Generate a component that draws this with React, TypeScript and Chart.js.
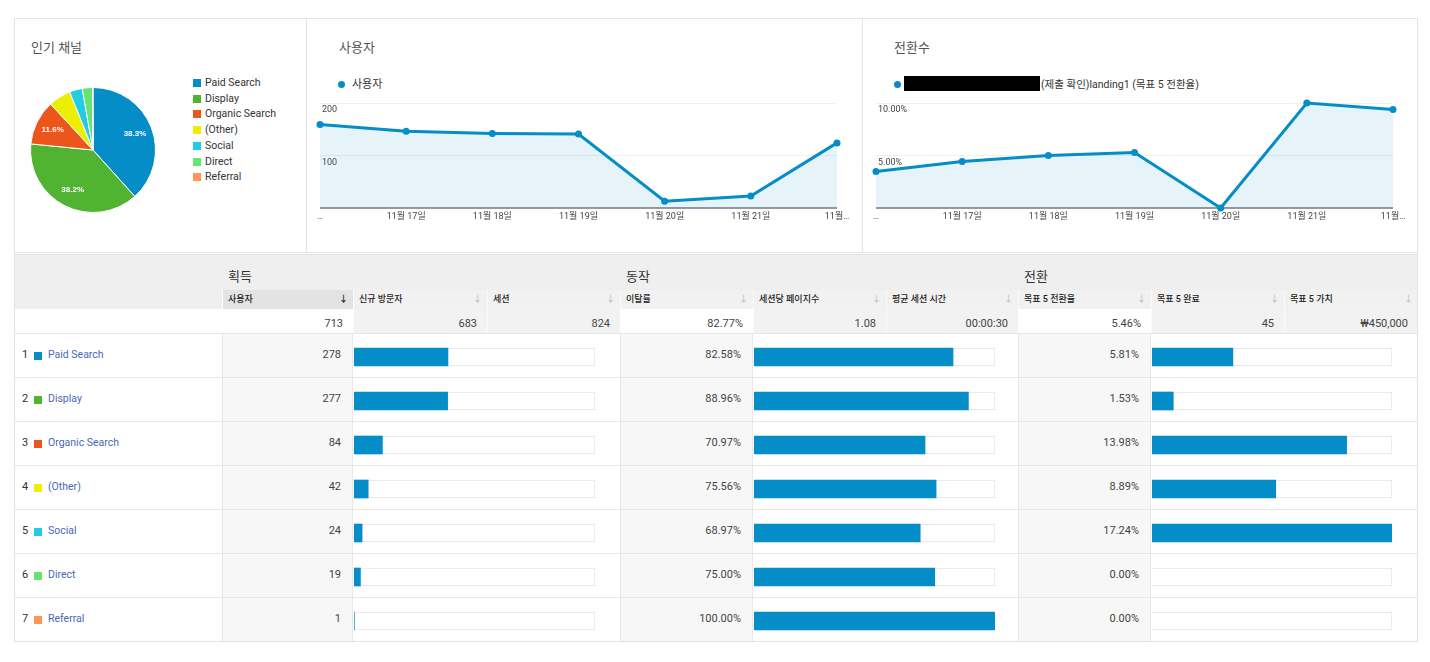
import React, { useEffect, useRef } from 'react';
import { Chart, registerables } from 'chart.js';

Chart.register(...registerables);

const FONT = "Roboto, 'Noto Sans CJK KR', 'Noto Sans', sans-serif";
Chart.defaults.font.family = FONT;

const BLUE = '#058dc7';

// ---- data ----
const channels = ['Paid Search', 'Display', 'Organic Search', '(Other)', 'Social', 'Direct', 'Referral'];
const channelColors = ['#058dc7', '#50b432', '#ed561b', '#edef00', '#24cbe5', '#64e572', '#ff9655'];
const channelUsers = [278, 277, 84, 42, 24, 19, 1];
const bounceRates = [82.58, 88.96, 70.97, 75.56, 68.97, 75.0, 100.0];
const goalRates = [5.81, 1.53, 13.98, 8.89, 17.24, 0.0, 0.0];

const dates = ['11월 16일', '11월 17일', '11월 18일', '11월 19일', '11월 20일', '11월 21일', '11월 22일'];
const dateTickLabels = ['…', '11월 17일', '11월 18일', '11월 19일', '11월 20일', '11월 21일', '11월…'];
const dailyUsers = [159, 146, 142, 141, 13, 23, 124];
const dailyGoalRate = [3.48, 4.43, 5.0, 5.29, 0.0, 10.0, 9.38];
const usersAxisMax = 200;
const usersAxisStep = 100;
const goalAxisMax = 10;
const goalAxisStep = 5;

const totalUsers = 713;
const groupTitles = ['획득', '동작', '전환'];
const columnLabels = ['사용자', '신규 방문자', '세션', '이탈률', '세션당 페이지수', '평균 세션 시간', '목표 5 전환율', '목표 5 완료', '목표 5 가치'];
const totalsLabels = ['713', '683', '824', '82.77%', '1.08', '00:00:30', '5.46%', '45', '₩450,000'];

// ---- layout ----
const colX = [222, 353, 487, 620, 753, 886, 1018, 1151, 1284, 1418];
const ROW_TOP = 334;
const ROW_H = 44;

function Txt(props: { x: number; y: number; size?: number; color?: string; right?: boolean; weight?: any; children: any }) {
  const { x, y, size = 11, color = '#444', right, weight, children } = props;
  const style: React.CSSProperties = {
    position: 'absolute',
    top: y - 9,
    height: 18,
    lineHeight: '18px',
    fontSize: size,
    color,
    whiteSpace: 'nowrap',
    fontWeight: weight,
  };
  if (right) {
    style.left = x - 400;
    style.width = 400;
    style.textAlign = 'right';
  } else {
    style.left = x;
  }
  return <div style={style}>{children}</div>;
}

function Rect(props: { x: number; y: number; w: number; h: number; bg?: string; style?: React.CSSProperties }) {
  return (
    <div
      style={{ position: 'absolute', left: props.x, top: props.y, width: props.w, height: props.h, background: props.bg, boxSizing: 'border-box', ...props.style }}
    />
  );
}

const pieLabelPlugin = {
  id: 'pieLabels',
  afterDatasetsDraw(chart: any) {
    const meta = chart.getDatasetMeta(0);
    const data = chart.data.datasets[0].data as number[];
    const sum = data.reduce((a, b) => a + b, 0);
    const ctx = chart.ctx;
    ctx.save();
    ctx.fillStyle = '#ffffff';
    ctx.font = `bold 8px Arial, 'Liberation Sans', sans-serif`;
    ctx.textAlign = 'center';
    ctx.textBaseline = 'middle';
    meta.data.forEach((arc: any, i: number) => {
      const pct = (data[i] / sum) * 100;
      if (pct < 10) return;
      const p = arc.getProps(['x', 'y', 'startAngle', 'endAngle', 'outerRadius'], true);
      const mid = (p.startAngle + p.endAngle) / 2;
      const r = p.outerRadius * 0.72;
      ctx.fillText(pct.toFixed(1) + '%', p.x + Math.cos(mid) * r, p.y + Math.sin(mid) * r);
    });
    ctx.restore();
  },
};

function PieChart() {
  const ref = useRef<HTMLCanvasElement>(null);
  useEffect(() => {
    const chart = new Chart(ref.current!, {
      type: 'pie',
      data: {
        labels: channels,
        datasets: [{ data: channelUsers, backgroundColor: channelColors, borderColor: '#ffffff', borderWidth: 1 }],
      },
      options: {
        animation: false,
        responsive: false,
        layout: { padding: 0 },
        plugins: { legend: { display: false }, tooltip: { enabled: false } },
      },
      plugins: [pieLabelPlugin],
    } as any);
    return () => chart.destroy();
  }, []);
  return <canvas ref={ref} width={126} height={126} style={{ position: 'absolute', left: 30, top: 87, width: 126, height: 126 }} />;
}

function LineChart(props: { values: number[]; max: number; step: number; fmt: (v: number) => string; left: number }) {
  const ref = useRef<HTMLCanvasElement>(null);
  useEffect(() => {
    const chart = new Chart(ref.current!, {
      type: 'line',
      data: {
        labels: dates,
        datasets: [
          {
            data: props.values,
            borderColor: BLUE,
            backgroundColor: 'rgba(5,141,199,0.1)',
            fill: 'origin',
            borderWidth: 3,
            pointRadius: 3.5,
            pointBackgroundColor: BLUE,
            pointBorderWidth: 0,
            tension: 0,
            clip: false,
          },
        ],
      },
      options: {
        animation: false,
        responsive: false,
        layout: { padding: { left: 14, right: 25, top: 8, bottom: 0 } },
        plugins: { legend: { display: false }, tooltip: { enabled: false } },
        scales: {
          x: {
            offset: false,
            grid: { display: false, drawTicks: false },
            border: { display: false },
            ticks: {
              autoSkip: false,
              maxRotation: 0,
              padding: 3,
              font: { size: 9, family: FONT },
              color: '#444',
              callback: (_v: any, i: number) => dateTickLabels[i],
            },
            afterFit: (s: any) => {
              s.height = 27;
            },
          },
          y: {
            min: 0,
            max: props.max,
            border: { display: false },
            grid: {
              drawTicks: false,
              color: (c: any) => (c.tick && c.tick.value === 0 ? '#9a9a9a' : '#f0f0f0'),
              lineWidth: (c: any) => (c.tick && c.tick.value === 0 ? 2 : 1),
            },
            ticks: {
              stepSize: props.step,
              mirror: true,
              padding: 2,
              labelOffset: 7,
              font: { size: 9, family: FONT },
              color: '#444',
              callback: (v: any) => (Number(v) === 0 ? '' : props.fmt(Number(v))),
            },
            afterFit: (s: any) => {
              s.width = 0;
            },
          },
        },
      },
    } as any);
    return () => chart.destroy();
  }, []);
  return <canvas ref={ref} width={556} height={140} style={{ position: 'absolute', left: props.left, top: 95, width: 556, height: 140 }} />;
}

function BarColumn(props: { values: number[]; max: number; left: number; width: number }) {
  const ref = useRef<HTMLCanvasElement>(null);
  useEffect(() => {
    const chart = new Chart(ref.current!, {
      type: 'bar',
      data: {
        labels: channels,
        datasets: [
          {
            data: props.values,
            backgroundColor: (c: any) => (c.raw === 0 ? 'rgba(0,0,0,0)' : BLUE),
            borderWidth: 0,
            barThickness: 18,
            grouped: false,
            order: 0,
          },
          {
            data: props.values.map(() => props.max),
            backgroundColor: '#ffffff',
            borderColor: '#e3e3e3',
            borderWidth: 1,
            barThickness: 18,
            grouped: false,
            order: 1,
          },
        ],
      },
      options: {
        indexAxis: 'y',
        animation: false,
        responsive: false,
        layout: { padding: 0 },
        plugins: { legend: { display: false }, tooltip: { enabled: false } },
        scales: {
          x: { display: false, min: 0, max: props.max },
          y: { display: false },
        },
      },
    } as any);
    return () => chart.destroy();
  }, []);
  const h = ROW_H * channels.length;
  return (
    <canvas ref={ref} width={props.width} height={h} style={{ position: 'absolute', left: props.left, top: ROW_TOP + 1, width: props.width, height: h }} />
  );
}

export default function App() {
  useEffect(() => {
    document.body.style.margin = '0';
  }, []);

  const rowValueTexts = [
    channelUsers.map((v) => String(v)),
    bounceRates.map((v) => v.toFixed(2) + '%'),
    goalRates.map((v) => v.toFixed(2) + '%'),
  ];
  const barMax = [totalUsers, 100, Math.max(...goalRates)];
  const barValues = [channelUsers, bounceRates, goalRates];

  return (
    <div style={{ position: 'absolute', left: 0, top: 0, width: 1430, height: 662, background: '#fff', fontFamily: FONT, overflow: 'hidden' }}>
      {/* top panels frame */}
      <Rect x={14} y={18} w={1404} h={235} style={{ border: '1px solid #e4e4e4' }} />
      <Rect x={306} y={18} w={1} h={235} bg="#e4e4e4" />
      <Rect x={862} y={18} w={1} h={235} bg="#e4e4e4" />

      {/* pie panel */}
      <Txt x={31} y={48} size={13} color="#555">인기 채널</Txt>
      <PieChart />
      {channels.map((c, i) => (
        <React.Fragment key={c}>
          <Rect x={193} y={79 + i * 15.7} w={8} h={8} bg={channelColors[i]} />
          <Txt x={205} y={83 + i * 15.7} size={10.5} color="#333">{c}</Txt>
        </React.Fragment>
      ))}

      {/* users panel */}
      <Txt x={339} y={48} size={13} color="#555">사용자</Txt>
      <Rect x={338} y={81} w={7} h={7} bg={BLUE} style={{ borderRadius: '50%' }} />
      <Txt x={352} y={85} size={11} color="#333">사용자</Txt>
      <LineChart values={dailyUsers} max={usersAxisMax} step={usersAxisStep} fmt={(v) => String(v)} left={306} />

      {/* conversions panel */}
      <Txt x={894} y={48} size={13} color="#555">전환수</Txt>
      <Rect x={894} y={81} w={7} h={7} bg={BLUE} style={{ borderRadius: '50%' }} />
      <Rect x={904} y={76} w={136} h={15} bg="#000" />
      <Txt x={1041} y={85} size={10.5} color="#333">(제출 확인)landing1 (목표 5 전환율)</Txt>
      <LineChart values={dailyGoalRate} max={goalAxisMax} step={goalAxisStep} fmt={(v) => v.toFixed(2) + '%'} left={862} />

      {/* table header band */}
      <Rect x={14} y={254} w={1404} h={36} bg="#efefef" />
      {groupTitles.map((g, gi) => (
        <Txt key={g} x={colX[gi * 3] + 6} y={277} size={13} color="#333">{g}</Txt>
      ))}
      {/* column header row */}
      <Rect x={14} y={290} w={208} h={19} bg="#efefef" />
      {columnLabels.map((l, i) => (
        <React.Fragment key={l}>
          <Rect x={colX[i]} y={290} w={colX[i + 1] - colX[i]} h={19} bg={i === 0 ? '#e3e3e3' : '#f1f1f1'} style={{ borderLeft: '1px solid #fafafa' }} />
          <Txt x={colX[i] + 6} y={299} size={9} color="#222" weight={500}>{l}</Txt>
          <Txt x={colX[i + 1] - 5} y={299} size={9} right color={i === 0 ? '#333' : '#c9c9c9'} weight={700}>↓</Txt>
        </React.Fragment>
      ))}
      {/* totals row */}
      <Rect x={14} y={309} w={208} h={25} bg="#fff" />
      {totalsLabels.map((t, i) => (
        <React.Fragment key={i}>
          <Rect x={colX[i]} y={309} w={colX[i + 1] - colX[i]} h={25} bg={i % 3 === 0 ? '#ffffff' : '#f2f2f2'} style={{ borderLeft: i % 3 === 0 ? undefined : '1px solid #fafafa' }} />
          <Txt x={colX[i + 1] - 10} y={324} size={11} right color="#444">{t}</Txt>
        </React.Fragment>
      ))}
      <Rect x={14} y={333} w={1404} h={1} bg="#e6e6e6" />

      {/* data rows */}
      {channels.map((c, r) => {
        const y = ROW_TOP + r * ROW_H;
        return (
          <React.Fragment key={c}>
            {[0, 1, 2].map((g) => (
              <React.Fragment key={g}>
                <Rect x={colX[g * 3]} y={y} w={colX[g * 3 + 1] - colX[g * 3]} h={ROW_H} bg="#f7f7f7" style={{ borderLeft: '1px solid #e8e8e8', borderRight: '1px solid #e8e8e8' }} />
                <Txt x={colX[g * 3 + 1] - 12} y={y + 21} size={11} right color="#444">{rowValueTexts[g][r]}</Txt>
              </React.Fragment>
            ))}
            <Rect x={14} y={y + ROW_H - 1} w={1404} h={1} bg="#e8e8e8" />
            <Txt x={22} y={y + 21} size={11} color="#333">{String(r + 1)}</Txt>
            <Rect x={34} y={y + 18} w={8} h={8} bg={channelColors[r]} />
            <Txt x={48} y={y + 21} size={10.5} color="#4a67b4">{c}</Txt>
          </React.Fragment>
        );
      })}
      {[0, 1, 2].map((g) => (
        <BarColumn key={g} values={barValues[g]} max={barMax[g]} left={colX[g * 3 + 1] + 1} width={g === 2 ? 240 : 241} />
      ))}

      {/* table outline */}
      <Rect x={14} y={254} w={1404} h={388} style={{ border: '1px solid #e2e2e2' }} />
    </div>
  );
}
